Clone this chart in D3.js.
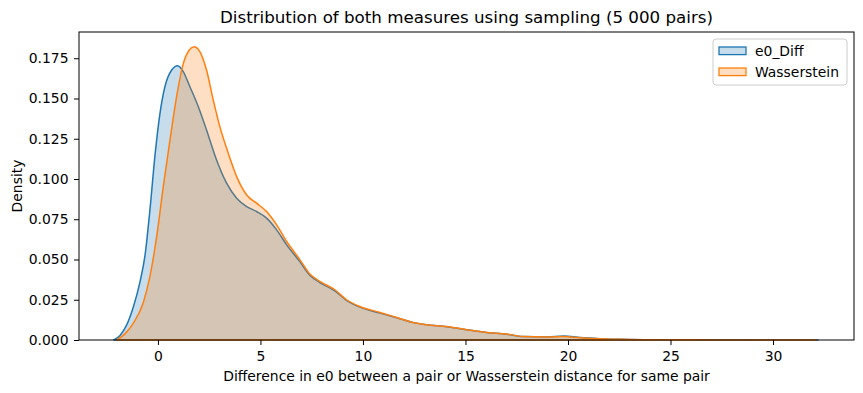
<!DOCTYPE html>
<html>
<head>
<meta charset="utf-8">
<script src="https://cdn.jsdelivr.net/npm/d3@7"></script>
<style>
  body { margin: 0; background: #fff; }
  text { font-family: "DejaVu Sans", sans-serif; fill: #000; }
</style>
</head>
<body>
<div id="chart"></div>
<script>
// series (value, density)
var e0DiffX = [-2.15, -1.85, -1.53, -1.2, -0.88, -0.63, -0.39, -0.15, 0.1, 0.34, 0.67, 0.96, 1.24, 1.56, 1.97, 2.37, 2.86, 3.35, 3.84, 4.33, 4.81, 5.3, 5.79, 6.28, 6.93, 7.41, 7.9, 8.63, 9.2, 9.85, 10.83, 11.64, 12.45, 13.1, 14.08, 15.06, 16.03, 17.0, 17.8, 18.96, 19.8, 20.6, 21.56, 22.5, 24, 26, 29, 32.2];
var e0DiffY = [0, 0.0028, 0.0092, 0.0205, 0.0358, 0.0525, 0.0808, 0.1139, 0.1408, 0.1573, 0.1677, 0.1704, 0.1666, 0.1573, 0.1449, 0.1305, 0.1118, 0.0974, 0.0881, 0.0829, 0.0798, 0.0757, 0.0684, 0.0591, 0.0485, 0.0402, 0.0357, 0.0305, 0.0246, 0.0204, 0.0167, 0.0138, 0.0108, 0.0094, 0.0083, 0.0064, 0.0047, 0.0036, 0.0022, 0.0019, 0.0025, 0.0015, 0.0008, 0.0004, 0.0002, 0.0001, 0.00005, 0];

var wassX = [-2.0, -1.61, -1.2, -0.72, -0.39, -0.06, 0.26, 0.59, 0.91, 1.24, 1.53, 1.76, 2.05, 2.37, 2.7, 3.02, 3.43, 3.84, 4.33, 4.81, 5.3, 5.79, 6.28, 6.93, 7.41, 7.9, 8.63, 9.2, 9.85, 10.83, 11.64, 12.45, 13.1, 14.08, 15.06, 16.03, 17.0, 17.8, 18.96, 19.77, 20.6, 21.56, 22.5, 24, 26, 29, 32.1];
var wassY = [0, 0.0038, 0.0105, 0.023, 0.0395, 0.0643, 0.0953, 0.1243, 0.1511, 0.1718, 0.1801, 0.1821, 0.179, 0.1677, 0.149, 0.1325, 0.116, 0.1015, 0.0901, 0.085, 0.0798, 0.0715, 0.0612, 0.0498, 0.041, 0.0364, 0.0312, 0.025, 0.0208, 0.0171, 0.014, 0.0109, 0.0095, 0.0084, 0.0064, 0.0047, 0.0037, 0.0022, 0.0019, 0.0022, 0.0014, 0.0008, 0.0004, 0.0002, 0.0001, 0.00005, 0];

var seriesNames = ['e0_Diff', 'Wasserstein'];
var seriesColors = ['#1f77b4', '#ff7f0e'];
var xTicks = [0, 5, 10, 15, 20, 25, 30];
var yTicks = [0, 0.025, 0.05, 0.075, 0.1, 0.125, 0.15, 0.175];

var svgWidth = 863;
var svgHeight = 393;
var margin = { top: 32, right: 9, bottom: 53, left: 79 };
var width = svgWidth - margin.left - margin.right;
var height = svgHeight - margin.top - margin.bottom;
var fontSize = '13.9px';

var svg = d3.select('#chart').append('svg')
  .attr('width', svgWidth)
  .attr('height', svgHeight);

var chartGroup = svg.append('g')
  .attr('transform', `translate(${margin.left}, ${margin.top})`);

var xScale = d3.scaleLinear().domain([-3.85, 33.95]).range([0, width]);
var yScale = d3.scaleLinear().domain([0, 0.1913]).range([height, 0]);

var series = [
  { name: seriesNames[0], color: seriesColors[0], pts: e0DiffX.map((x, i) => [x, e0DiffY[i]]) },
  { name: seriesNames[1], color: seriesColors[1], pts: wassX.map((x, i) => [x, wassY[i]]) }
];

var area = d3.area()
  .x(d => xScale(d[0]))
  .y0(yScale(0))
  .y1(d => yScale(d[1]))
  .curve(d3.curveMonotoneX);

// filled kde curves, edge drawn in full colour
series.forEach(function(s) {
  chartGroup.append('path')
    .datum(s.pts)
    .attr('d', area)
    .attr('fill', s.color)
    .attr('fill-opacity', 0.25)
    .attr('stroke', s.color)
    .attr('stroke-width', 1.5)
    .attr('stroke-linejoin', 'round');
});

// axes
var xAxis = chartGroup.append('g')
  .attr('transform', `translate(0, ${height})`)
  .call(d3.axisBottom(xScale).tickValues(xTicks).tickSize(5).tickPadding(6).tickFormat(d3.format('d')));

var yAxis = chartGroup.append('g')
  .call(d3.axisLeft(yScale).tickValues(yTicks).tickSize(5).tickPadding(5.5).tickFormat(d3.format('.3f')));

[xAxis, yAxis].forEach(function(ax) {
  ax.selectAll('text').style('font-family', '"DejaVu Sans", sans-serif').style('font-size', fontSize).attr('fill', '#000');
  ax.selectAll('line').attr('stroke', '#000').attr('stroke-width', 1);
  ax.select('.domain').remove();
});

// frame
chartGroup.append('rect')
  .attr('width', width)
  .attr('height', height)
  .attr('fill', 'none')
  .attr('stroke', '#000')
  .attr('stroke-width', 1);

// titles
svg.append('text')
  .attr('x', margin.left + width / 2)
  .attr('y', 23)
  .attr('text-anchor', 'middle')
  .style('font-size', '16.7px')
  .text('Distribution of both measures using sampling (5 000 pairs)');

svg.append('text')
  .attr('x', margin.left + width / 2)
  .attr('y', 381)
  .attr('text-anchor', 'middle')
  .style('font-size', fontSize)
  .text('Difference in e0 between a pair or Wasserstein distance for same pair');

svg.append('text')
  .attr('transform', `translate(22, ${margin.top + height / 2}) rotate(-90)`)
  .attr('text-anchor', 'middle')
  .style('font-size', fontSize)
  .text('Density');

// legend
var legend = svg.append('g').attr('transform', 'translate(713, 39)');
legend.append('rect')
  .attr('width', 134)
  .attr('height', 46)
  .attr('rx', 3)
  .attr('fill', '#fff')
  .attr('fill-opacity', 0.8)
  .attr('stroke', '#cccccc')
  .attr('stroke-width', 1);

series.forEach(function(s, i) {
  var row = legend.append('g').attr('transform', `translate(6, ${8 + i * 21})`);
  row.append('rect')
    .attr('width', 27)
    .attr('height', 7.6)
    .attr('fill', s.color)
    .attr('fill-opacity', 0.25)
    .attr('stroke', s.color)
    .attr('stroke-width', 1.3);
  row.append('text')
    .attr('x', 36)
    .attr('y', 8.7)
    .style('font-size', fontSize)
    .text(s.name);
});
</script>
</body>
</html>
